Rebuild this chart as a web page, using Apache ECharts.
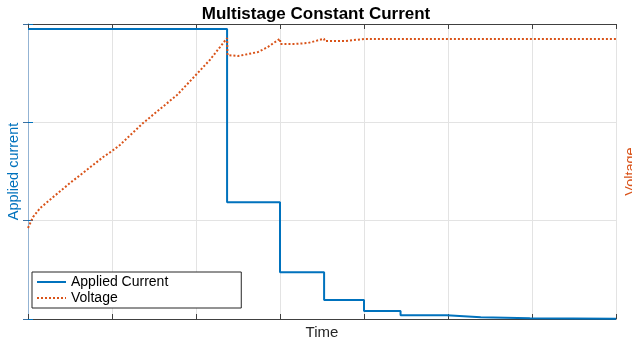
<!DOCTYPE html>
<html>
<head>
<meta charset="utf-8">
<script src="https://cdn.jsdelivr.net/npm/echarts@6/dist/echarts.min.js"></script>
<style>
  html, body { margin: 0; padding: 0; background: #fff; }
  #chart { width: 632px; height: 345px; }
</style>
</head>
<body>
<div id="chart"></div>
<script>
// Stage start times (min) and the constant current applied in each stage (A)
const stageStart = [0, 47.4, 60.0, 70.5, 80.0, 88.7, 99.7, 107.8, 119.5, 140];
const stageCurrent = [2.95, 1.187, 0.475, 0.193, 0.081, 0.037, 0.017, 0.007, 0.002, 0.002];

// Terminal voltage samples (min, V)
const voltTime = [0, 1.2, 2.9, 6.0, 10.0, 14.0, 17.9, 20.0, 21.9, 27.4, 35.5, 39.3, 43.3, 47.4,
  47.5, 50.0, 52.4, 54.8, 57.1, 60.0, 60.1, 63.6, 66.7, 70.5, 70.6, 75.5, 80.0, 140];
const voltValue = [3.048, 3.126, 3.190, 3.268, 3.368, 3.461, 3.553, 3.596, 3.639, 3.795, 3.995, 4.116, 4.244, 4.400,
  4.279, 4.272, 4.286, 4.301, 4.336, 4.395, 4.358, 4.358, 4.365, 4.395, 4.379, 4.379, 4.393, 4.393];

const FONT = 'Liberation Sans, Arial, Helvetica, sans-serif';
const BLUE = '#0072BD';
const ORANGE = '#D95319';
const AXIS = '#404040';
const GRIDC = '#e3e3e3';

const chart = echarts.init(document.getElementById('chart'), null, { renderer: 'canvas' });

chart.setOption({
  animation: false,
  backgroundColor: '#fff',
  textStyle: { fontFamily: FONT },
  title: {
    text: 'Multistage Constant Current',
    left: 'center',
    top: 1,
    textStyle: { fontFamily: FONT, fontSize: 17, fontWeight: 'bold', color: '#000' }
  },
  grid: { left: 28, right: 16, top: 24, bottom: 26, containLabel: false, outerBoundsMode: 'none' },
  legend: {
    orient: 'vertical',
    left: 32,
    top: 272,
    backgroundColor: '#fff',
    borderColor: '#262626',
    borderWidth: 1,
    borderRadius: 0,
    padding: [3, 73, 3, 4],
    itemWidth: 29,
    itemHeight: 14,
    itemGap: 2,
    itemStyle: { opacity: 0 },
    lineStyle: { opacity: 1 },
    textStyle: { fontFamily: FONT, fontSize: 14, color: '#000' },
    data: ['Applied Current', 'Voltage']
  },
  xAxis: [
    {
      type: 'value', min: 0, max: 140, interval: 20,
      name: 'Time', nameLocation: 'middle', nameGap: 6,
      nameTextStyle: { fontFamily: FONT, fontSize: 15, color: '#262626', verticalAlign: 'top' },
      axisLine: { show: true, lineStyle: { color: AXIS, width: 1 } },
      axisTick: { show: true, inside: true, length: 5, lineStyle: { color: AXIS } },
      axisLabel: { show: false },
      splitLine: { show: true, lineStyle: { color: GRIDC, width: 1 } }
    },
    {
      type: 'value', min: 0, max: 140, interval: 20, position: 'top',
      axisLine: { show: true, lineStyle: { color: AXIS, width: 1 } },
      axisTick: { show: true, inside: true, length: 5, lineStyle: { color: AXIS } },
      axisLabel: { show: false },
      splitLine: { show: false }
    }
  ],
  yAxis: [
    {
      type: 'value', min: 0, max: 3, interval: 1, position: 'left',
      name: 'Applied current', nameLocation: 'middle', nameRotate: 90, nameGap: 7,
      nameTextStyle: { fontFamily: FONT, fontSize: 14.5, color: BLUE },
      axisLine: { show: true, lineStyle: { color: '#4f9bd9', width: 1 } },
      axisTick: { show: true, inside: true, length: 5, lineStyle: { color: BLUE } },
      axisLabel: { show: false },
      splitLine: { show: true, lineStyle: { color: GRIDC, width: 1 } }
    },
    {
      type: 'value', min: 2.4, max: 4.5, interval: 0.7, position: 'right',
      name: 'Voltage', nameLocation: 'middle', nameRotate: 90, nameGap: 7,
      nameTextStyle: { fontFamily: FONT, fontSize: 14.5, color: ORANGE },
      axisLine: { show: true, lineStyle: { color: '#93b3d3', width: 1 } },
      axisTick: { show: true, inside: true, length: 5, lineStyle: { color: '#3c6fa0' } },
      axisLabel: { show: false },
      splitLine: { show: false }
    }
  ],
  series: [
    {
      name: 'Applied Current',
      type: 'line',
      xAxisIndex: 0,
      yAxisIndex: 0,
      step: 'end',
      symbol: 'none',
      lineStyle: { color: BLUE, width: 2 },
      itemStyle: { color: BLUE },
      data: stageStart.map((t, i) => [t, stageCurrent[i]]),
      z: 2
    },
    {
      name: 'Voltage',
      type: 'line',
      xAxisIndex: 0,
      yAxisIndex: 1,
      symbol: 'none',
      lineStyle: { color: ORANGE, width: 2, type: 'dotted' },
      itemStyle: { color: ORANGE },
      data: voltTime.map((t, i) => [t, voltValue[i]]),
      z: 3
    }
  ]
});
</script>
</body>
</html>
